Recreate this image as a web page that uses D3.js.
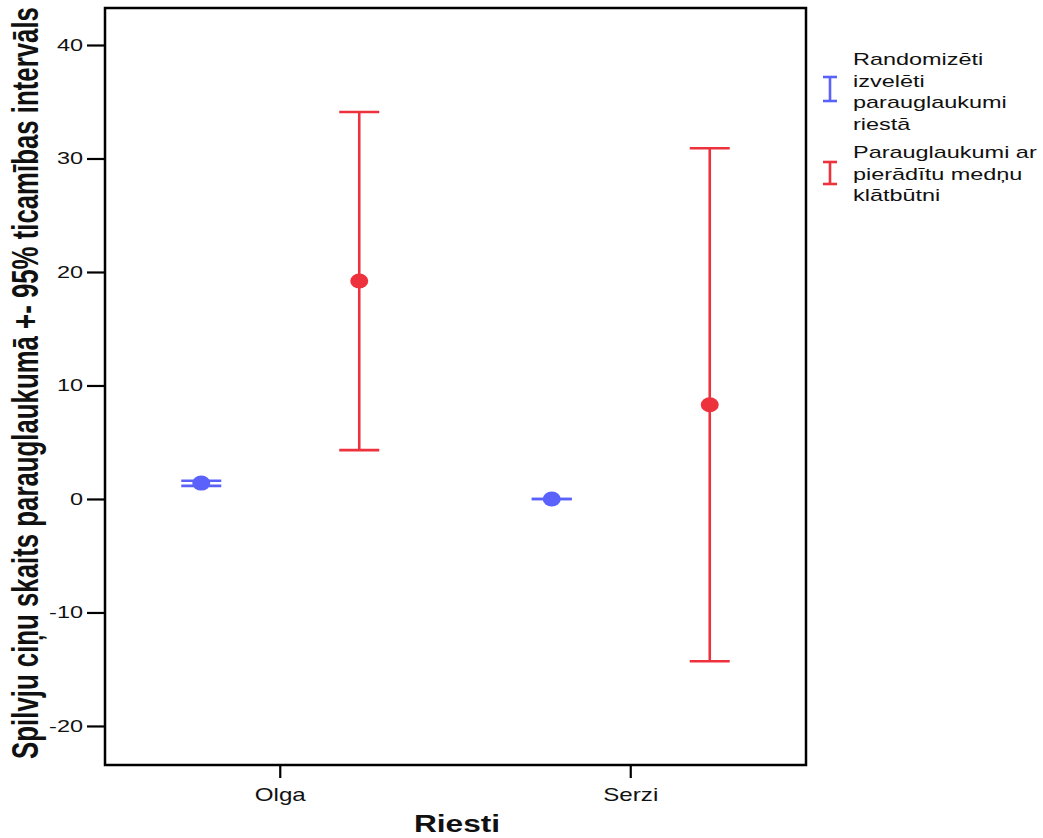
<!DOCTYPE html>
<html>
<head>
<meta charset="utf-8">
<script src="https://cdn.jsdelivr.net/npm/d3@7"></script>
<style>
  body { margin: 0; background: #fff; }
  text { font-family: "Liberation Sans", Arial, sans-serif; fill: #111; }
</style>
</head>
<body>
<div id="wrapper"></div>
<script>
// data
const categories = ["Olga", "Serzi"];
const seriesKeys = ["random", "presence"];
const legendLines = [
    ["Randomizēti", "izvelēti", "parauglaukumi", "riestā"],
    ["Parauglaukumi ar", "pierādītu medņu", "klātbūtni"]
];
const randomMean = [1.4, 0.0];
const randomLow = [1.15, 0.0];
const randomHigh = [1.6, 0.0];
const presenceMean = [19.2, 8.3];
const presenceLow = [4.3, -14.3];
const presenceHigh = [34.1, 30.9];
const yTicks = [-20, -10, 0, 10, 20, 30, 40];
const colors = ["#5a62fb", "#ee323d"];

const rows = []
categories.forEach((c, i) => {
    rows.push({ cat: c, key: "random", mean: randomMean[i], lo: randomLow[i], hi: randomHigh[i] })
    rows.push({ cat: c, key: "presence", mean: presenceMean[i], lo: presenceLow[i], hi: presenceHigh[i] })
})

const dimensions = {
    width: 1043,
    height: 838,
    margin: { top: 8, right: 237, bottom: 73, left: 105 },
}
dimensions.boundedWidth = dimensions.width - dimensions.margin.left - dimensions.margin.right
dimensions.boundedHeight = dimensions.height - dimensions.margin.top - dimensions.margin.bottom

const sx = 1.38   // the text in the picture is stretched sideways

const svg = d3.select("#wrapper").append("svg")
    .attr("width", dimensions.width)
    .attr("height", dimensions.height)

const bounds = svg.append("g")
    .attr("transform", `translate(${dimensions.margin.left},${dimensions.margin.top})`)

const xScale = d3.scaleBand()
    .domain(categories)
    .range([0, dimensions.boundedWidth])

const offset = d3.scalePoint()
    .domain(seriesKeys)
    .range([-79, 79])

const colorScale = d3.scaleOrdinal()
    .domain(seriesKeys)
    .range(colors)

const yScale = d3.scaleLinear()
    .domain([-23.44, 43.26])
    .range([dimensions.boundedHeight, 0])

// y axis
const yAxis = bounds.append("g")
    .call(d3.axisLeft(yScale).tickValues(yTicks).tickSize(18).tickPadding(4).tickFormat(d => String(d)))
yAxis.select(".domain").remove()
yAxis.selectAll(".tick line").attr("stroke", "#000").attr("stroke-width", 2.2)
yAxis.selectAll(".tick text")
    .attr("font-size", "17px")
    .attr("font-family", "Liberation Sans, Arial, sans-serif")
    .attr("fill", "#111")
    .attr("x", -22 / sx)
    .attr("transform", `scale(${sx},1)`)

// x axis
const xAxis = bounds.append("g")
    .attr("transform", `translate(0,${dimensions.boundedHeight})`)
    .call(d3.axisBottom(xScale).tickSize(13))
xAxis.select(".domain").remove()
xAxis.selectAll(".tick line").attr("stroke", "#000").attr("stroke-width", 2.2)
xAxis.selectAll(".tick text")
    .attr("font-size", "17.5px")
    .attr("font-family", "Liberation Sans, Arial, sans-serif")
    .attr("fill", "#111")
    .attr("y", 36)
    .attr("dy", 0)
    .attr("transform", `scale(${sx},1)`)

// frame
bounds.append("rect")
    .attr("width", dimensions.boundedWidth)
    .attr("height", dimensions.boundedHeight)
    .attr("fill", "none")
    .attr("stroke", "#000")
    .attr("stroke-width", 2.5)

// error bars
const capHalf = 20
const bars = bounds.append("g").selectAll("g")
    .data(rows)
    .join("g")
    .attr("transform", d => `translate(${xScale(d.cat) + xScale.bandwidth() / 2 + offset(d.key)},0)`)
    .attr("stroke", d => colorScale(d.key))
    .attr("stroke-width", 2.6)

bars.append("line")
    .attr("y1", d => yScale(d.hi))
    .attr("y2", d => yScale(d.lo))
bars.append("line")
    .attr("x1", -capHalf).attr("x2", capHalf)
    .attr("y1", d => yScale(d.hi)).attr("y2", d => yScale(d.hi))
bars.append("line")
    .attr("x1", -capHalf).attr("x2", capHalf)
    .attr("y1", d => yScale(d.lo)).attr("y2", d => yScale(d.lo))
bars.append("ellipse")
    .attr("cy", d => yScale(d.mean))
    .attr("rx", 9)
    .attr("ry", 7.5)
    .attr("stroke", "none")
    .attr("fill", d => colorScale(d.key))

// axis titles
svg.append("text")
    .attr("transform", `translate(457,832) scale(1.32,1)`)
    .attr("text-anchor", "middle")
    .attr("font-size", "24px")
    .attr("font-weight", "bold")
    .text("Riesti")

svg.append("text")
    .attr("transform", `translate(38,383) rotate(-90) scale(1,1.42)`)
    .attr("text-anchor", "middle")
    .attr("font-size", "25.8px")
    .attr("font-weight", "bold")
    .text("Spilvju ciņu skaits parauglaukumā +- 95% ticamības intervāls")

// legend
const legendTop = [65, 158]
const symbolY = [[77, 101], [162, 184]]
const legend = svg.append("g")
seriesKeys.forEach((key, i) => {
    const g = legend.append("g")
        .attr("stroke", colorScale(key))
        .attr("stroke-width", 2.6)
    g.append("line").attr("x1", 830).attr("x2", 830).attr("y1", symbolY[i][0]).attr("y2", symbolY[i][1])
    g.append("line").attr("x1", 823).attr("x2", 837).attr("y1", symbolY[i][0]).attr("y2", symbolY[i][0])
    g.append("line").attr("x1", 823).attr("x2", 837).attr("y1", symbolY[i][1]).attr("y2", symbolY[i][1])
    legendLines[i].forEach((line, j) => {
        legend.append("text")
            .attr("transform", `translate(853,${legendTop[i] + j * 21.5}) scale(${sx},1)`)
            .attr("font-size", "17px")
            .text(line)
    })
})
</script>
</body>
</html>
